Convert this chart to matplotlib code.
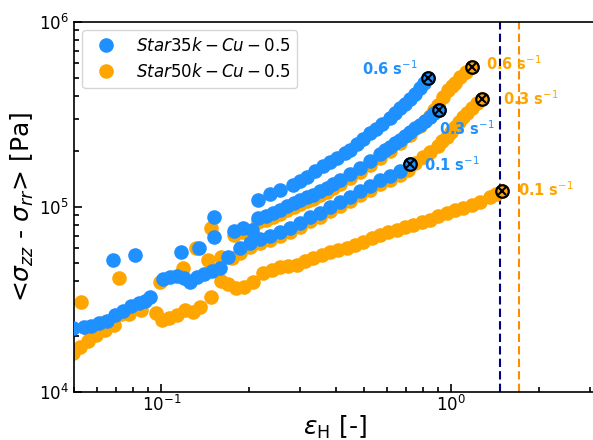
import matplotlib
matplotlib.use('Agg')
import matplotlib.pyplot as plt
from matplotlib.ticker import NullFormatter

# Star35k - Cu - 0.5 (blue), three strain rates
eps_35k_01 = [0.0496, 0.0542, 0.0572, 0.061, 0.0651, 0.0694, 0.0739, 0.0788, 0.0839, 0.088, 0.0916,
              0.1016, 0.1075, 0.1136, 0.1201, 0.126, 0.1333, 0.1409, 0.149, 0.1588, 0.1705, 0.1862,
              0.2016, 0.2183, 0.2364, 0.256, 0.2772, 0.3002, 0.3251, 0.352, 0.3812, 0.4128, 0.4471,
              0.4842, 0.5243, 0.5678, 0.6149, 0.6658, 0.719]
sig_35k_01 = [2.22e4, 2.24e4, 2.27e4, 2.36e4, 2.42e4, 2.61e4, 2.74e4, 2.91e4, 3.02e4, 3.10e4, 3.26e4,
              4.08e4, 4.18e4, 4.24e4, 4.13e4, 3.93e4, 4.18e4, 4.34e4, 4.51e4, 4.68e4, 5.37e4, 6.0e4,
              6.39e4, 6.71e4, 6.97e4, 7.33e4, 7.70e4, 8.19e4, 8.83e4, 9.28e4, 1.0e5, 1.065e5, 1.132e5,
              1.22e5, 1.30e5, 1.40e5, 1.47e5, 1.565e5, 1.70e5]

eps_35k_03 = [0.0812, 0.1354, 0.1514, 0.1775, 0.1906, 0.2048, 0.2148, 0.229, 0.2421, 0.256, 0.2707,
              0.2862, 0.3002, 0.3174, 0.3329, 0.352, 0.3723, 0.3904, 0.4128, 0.4471, 0.4842, 0.5243,
              0.5678, 0.5908, 0.6149, 0.6399, 0.6658, 0.6929, 0.7211, 0.7504, 0.7809, 0.8128, 0.8459,
              0.8732, 0.904]
sig_35k_03 = [5.50e4, 6.01e4, 6.89e4, 7.42e4, 7.70e4, 7.51e4, 8.72e4, 8.94e4, 9.28e4, 9.63e4, 1.012e5,
              1.051e5, 1.09e5, 1.131e5, 1.16e5, 1.22e5, 1.266e5, 1.332e5, 1.40e5, 1.509e5, 1.625e5,
              1.773e5, 1.934e5, 2.03e5, 2.107e5, 2.214e5, 2.30e5, 2.42e5, 2.546e5, 2.676e5, 2.77e5,
              2.913e5, 3.063e5, 3.219e5, 3.33e5]

eps_35k_06 = [0.0682, 0.1173, 0.1514, 0.2148, 0.2364, 0.256, 0.2839, 0.3002, 0.3174, 0.3383, 0.3606,
              0.3812, 0.4031, 0.4296, 0.4471, 0.4728, 0.4958, 0.5243, 0.55, 0.5769, 0.6149, 0.6399,
              0.6658, 0.6929, 0.7211, 0.7504, 0.7809, 0.8063, 0.831]
sig_35k_06 = [5.17e4, 5.72e4, 8.83e4, 1.09e5, 1.175e5, 1.235e5, 1.315e5, 1.383e5, 1.453e5, 1.565e5,
              1.669e5, 1.751e5, 1.84e5, 1.958e5, 2.03e5, 2.187e5, 2.329e5, 2.512e5, 2.643e5, 2.805e5,
              3.024e5, 3.219e5, 3.434e5, 3.605e5, 3.838e5, 4.081e5, 4.398e5, 4.685e5, 4.97e5]

# Star50k - Cu - 0.5 (orange), three strain rates
eps_50k_01 = [0.0496, 0.0524, 0.0559, 0.0595, 0.064, 0.0688, 0.0775, 0.0853, 0.0961, 0.1008, 0.1066,
              0.1136, 0.1211, 0.1291, 0.1365, 0.1478, 0.1601, 0.1692, 0.1803, 0.1922, 0.2065, 0.2236,
              0.2402, 0.256, 0.2728, 0.2931, 0.3124, 0.3329, 0.3577, 0.3812, 0.4063, 0.4365, 0.4653,
              0.4958, 0.5327, 0.5678, 0.6052, 0.6502, 0.6929, 0.7385, 0.7935, 0.8459, 0.9015, 0.9686,
              1.032, 1.100, 1.182, 1.260, 1.364, 1.431, 1.50]
sig_50k_01 = [1.625e4, 1.751e4, 1.886e4, 2.03e4, 2.16e4, 2.30e4, 2.64e4, 2.77e4, 2.68e4, 2.45e4, 2.51e4,
              2.61e4, 2.77e4, 2.70e4, 2.88e4, 3.26e4, 3.98e4, 3.84e4, 3.65e4, 3.70e4, 3.93e4, 4.40e4,
              4.57e4, 4.74e4, 4.80e4, 4.86e4, 5.11e4, 5.30e4, 5.50e4, 5.72e4, 5.86e4, 6.01e4, 6.23e4,
              6.47e4, 6.80e4, 7.06e4, 7.33e4, 7.51e4, 7.79e4, 7.99e4, 8.30e4, 8.51e4, 8.94e4, 9.28e4,
              9.63e4, 9.87e4, 1.025e5, 1.063e5, 1.131e5, 1.175e5, 1.22e5]

eps_50k_03 = [0.0563, 0.064, 0.0728, 0.0826, 0.0992, 0.1191, 0.1322, 0.1454, 0.1601, 0.1747, 0.1862,
              0.2016, 0.2183, 0.2364, 0.256, 0.2772, 0.3002, 0.3251, 0.352, 0.3812, 0.4128, 0.4471,
              0.4842, 0.5243, 0.5678, 0.6149, 0.6658, 0.7097, 0.7504, 0.7999, 0.8459, 0.9015, 0.9308,
              0.9686, 1.0, 1.032, 1.0655, 1.100, 1.136, 1.182, 1.2305, 1.276]
sig_50k_03 = [2.16e4, 2.39e4, 2.64e4, 2.91e4, 3.93e4, 4.69e4, 6.01e4, 5.17e4, 5.36e4, 5.30e4, 5.64e4,
              6.08e4, 6.39e4, 6.63e4, 6.97e4, 7.33e4, 7.79e4, 8.40e4, 8.83e4, 9.51e4, 1.012e5, 1.076e5,
              1.16e5, 1.235e5, 1.332e5, 1.40e5, 1.49e5, 1.585e5, 1.733e5, 1.863e5, 1.98e5, 2.133e5,
              2.271e5, 2.39e5, 2.546e5, 2.702e5, 2.877e5, 3.063e5, 3.219e5, 3.434e5, 3.65e5, 3.84e5]

eps_50k_06 = [0.0528, 0.0716, 0.1478, 0.1775, 0.1906, 0.2048, 0.2148, 0.229, 0.2421, 0.256, 0.2707,
              0.2862, 0.3002, 0.3174, 0.3329, 0.352, 0.3723, 0.3904, 0.4128, 0.4471, 0.4842, 0.5243,
              0.5678, 0.6149, 0.6658, 0.7211, 0.7809, 0.8128, 0.8459, 0.8732, 0.9015, 0.9381, 0.9763,
              1.008, 1.032, 1.074, 1.127, 1.176]
sig_50k_06 = [3.06e4, 4.13e4, 7.70e4, 7.06e4, 7.33e4, 7.15e4, 8.30e4, 8.51e4, 8.83e4, 9.16e4, 9.63e4,
              1.0e5, 1.038e5, 1.076e5, 1.104e5, 1.16e5, 1.205e5, 1.266e5, 1.332e5, 1.435e5, 1.546e5,
              1.69e5, 1.84e5, 2.005e5, 2.214e5, 2.45e5, 2.736e5, 2.913e5, 3.101e5, 3.35e5, 3.56e5,
              3.931e5, 4.29e5, 4.513e5, 4.685e5, 5.04e5, 5.36e5, 5.73e5]

rate_labels = ['0.1', '0.3', '0.6']
legend_labels = ['$Star35k-Cu-0.5$', '$Star50k-Cu-0.5$']
eps_max_35k = 1.478  # dashed limit lines
eps_max_50k = 1.716

blue = '#1E90FF'
orange = '#FFA500'

fig = plt.figure(figsize=(5.93, 4.40), dpi=100)
# the right edge of the axes sits just past the right edge of the figure
ax = fig.add_axes([74 / 593, 48 / 440, 521 / 593, 370 / 440])

curves_35k = [(eps_35k_01, sig_35k_01), (eps_35k_03, sig_35k_03), (eps_35k_06, sig_35k_06)]
curves_50k = [(eps_50k_01, sig_50k_01), (eps_50k_03, sig_50k_03), (eps_50k_06, sig_50k_06)]

for i, (x, y) in enumerate(curves_35k):
    ax.plot(x, y, 'o', ms=10.5, color=blue, mec='none', zorder=3,
            label=legend_labels[0] if i == 0 else None)
for i, (x, y) in enumerate(curves_50k):
    ax.plot(x, y, 'o', ms=10.5, color=orange, mec='none', zorder=2,
            label=legend_labels[1] if i == 0 else None)

# end points marked with a crossed circle
for curves, col in [(curves_35k, blue), (curves_50k, orange)]:
    for x, y in curves:
        ax.plot(x[-1], y[-1], 'o', ms=9, mfc=col, mec='k', mew=1.6, zorder=5)
        ax.plot(x[-1], y[-1], 'x', ms=5.5, color='k', mew=1.5, zorder=6)

# rate labels next to the end points (offsets in points)
offs_35k = [(10, 0, 'left'), (0, -13, 'left'), (-7, 7, 'right')]
offs_50k = [(11, 1, 'left'), (15, 0, 'left'), (10, 2, 'left')]
for curves, offs, col in [(curves_35k, offs_35k, blue), (curves_50k, offs_50k, orange)]:
    for (x, y), (dx, dy, ha), r in zip(curves, offs, rate_labels):
        ax.annotate(r + r' s$^{-1}$', xy=(x[-1], y[-1]), xytext=(dx, dy),
                    textcoords='offset points', ha=ha, va='center',
                    color=col, fontsize=10.5, fontweight='bold', zorder=7)

ax.axvline(eps_max_35k, color='navy', ls=(0, (4, 2)), lw=1.5, zorder=1)
ax.axvline(eps_max_50k, color='darkorange', ls=(0, (4, 2)), lw=1.5, zorder=1)

ax.set_xscale('log')
ax.set_yscale('log')
ax.set_xlim(0.05, 3.13)
ax.set_ylim(1e4, 1e6)
ax.xaxis.set_minor_formatter(NullFormatter())
ax.tick_params(which='both', direction='in', top=False, right=False, labelsize=12, width=1.2)
ax.tick_params(which='major', length=6)
ax.tick_params(which='minor', length=3.5)
ax.tick_params(axis='x', which='major', pad=2)
for s in ax.spines.values():
    s.set_linewidth(1.2)

ax.set_xlabel(r'$\varepsilon_{\rm H}$ [-]', fontsize=18, labelpad=-1)
ax.set_ylabel(r'<$\sigma_{zz}$ - $\sigma_{rr}$> [Pa]', fontsize=18, labelpad=2)

ax.legend(loc='upper left', fontsize=12, borderaxespad=0.5, handletextpad=0.8)

fig.savefig('out.png', dpi=100)
